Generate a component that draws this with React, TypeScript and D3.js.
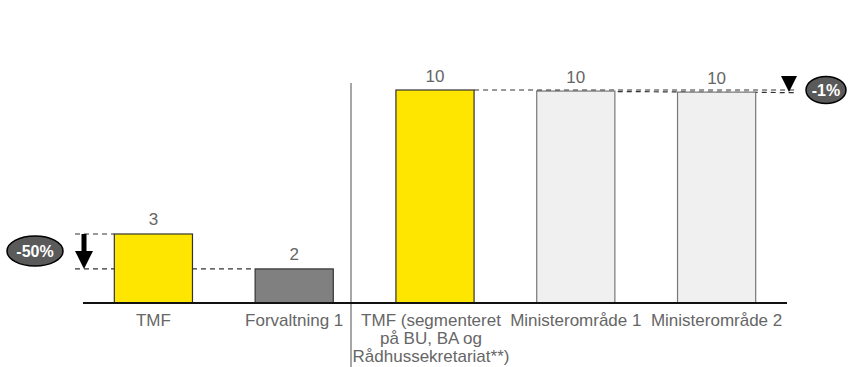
import React from "react";
import * as d3 from "d3";

const categories = ["TMF", "Forvaltning 1", "TMF (segmenteret|på BU, BA og|Rådhussekretariat**)", "Ministerområde 1", "Ministerområde 2"];
const values = [3.24, 1.6, 10.0, 9.95, 9.9];
const valueLabels = ["3", "2", "10", "10", "10"];
const fills = ["#FFE600", "#808080", "#FFE600", "#F0F0F0", "#F0F0F0"];
const strokes = ["#333", "#333", "#333", "#777", "#777"];
const leftBadge = "-50%";
const rightBadge = "-1%";

export default function App() {
  const W = 848, H = 367;
  const x = d3.scaleBand<number>().domain(d3.range(categories.length)).range([83, 787]).paddingInner(0.445).paddingOuter(0.2225);
  const y = d3.scaleLinear().domain([0, 10]).range([303, 90]);
  const bw = x.bandwidth();
  const font = "Liberation Sans, Arial, sans-serif";
  const y0 = y(values[0]);
  const y1 = y(values[1]);
  const yTop = y(values[2]);
  const yMin = y(values[4]);
  return (
    <svg width={W} height={H} style={{ position: "absolute", left: 0, top: 0 }} fontFamily={font}>
      <line x1={351} x2={351} y1={83} y2={367} stroke="#777" strokeWidth={1.3} />
      <line x1={75} x2={x(0)!} y1={y0} y2={y0} stroke="#333" strokeDasharray="5,4" strokeWidth={1.2} />
      <line x1={75} x2={x(1)!} y1={y1} y2={y1} stroke="#333" strokeDasharray="5,4" strokeWidth={1.2} />
      <line x1={x(2)! + bw} x2={797} y1={yTop} y2={yTop} stroke="#333" strokeDasharray="5,4" strokeWidth={1.2} />
      <line x1={x(3)!} x2={797} y1={y(values[3])} y2={yMin + 0.5} stroke="#333" strokeDasharray="5,4" strokeWidth={1.2} />
      {values.map((v, i) => {
        const lines = categories[i].split("|");
        const cx = x(i)! + bw / 2 + (lines.length > 1 ? -4 : 0);
        return (
          <g key={i}>
            <rect x={x(i)!} y={y(v)} width={bw} height={y(0) - y(v)} fill={fills[i]} stroke={strokes[i]} strokeWidth={1.2} />
            <text x={x(i)! + bw / 2} y={y(v) - 8.5} textAnchor="middle" fontSize={17} fill="#666">{valueLabels[i]}</text>
            {lines.map((line, j) => (
              <text key={j} x={cx} y={326 + j * 18} textAnchor="middle" fontSize={17} fill="#666">{line}</text>
            ))}
          </g>
        );
      })}
      <line x1={83} x2={787} y1={303} y2={303} stroke="#111" strokeWidth={2} />
      <rect x={81.5} y={y0} width={5} height={y1 - 17 - y0} fill="#000" />
      <path d={`M${75},${y1 - 18} L${93},${y1 - 18} L${84},${y1} Z`} fill="#000" />
      <ellipse cx={35} cy={251} rx={28} ry={15} fill="#5a5a5a" stroke="#000" strokeWidth={1.5} />
      <text x={35} y={257} textAnchor="middle" fontSize={16} fontWeight="bold" fill="#fff">{leftBadge}</text>
      <path d={`M${781},${76} L${797},${76} L${789},${yTop + 2} Z`} fill="#000" />
      <ellipse cx={826} cy={90} rx={20} ry={13.5} fill="#5a5a5a" stroke="#000" strokeWidth={1.5} />
      <text x={826} y={96} textAnchor="middle" fontSize={16} fontWeight="bold" fill="#fff">{rightBadge}</text>
    </svg>
  );
}
